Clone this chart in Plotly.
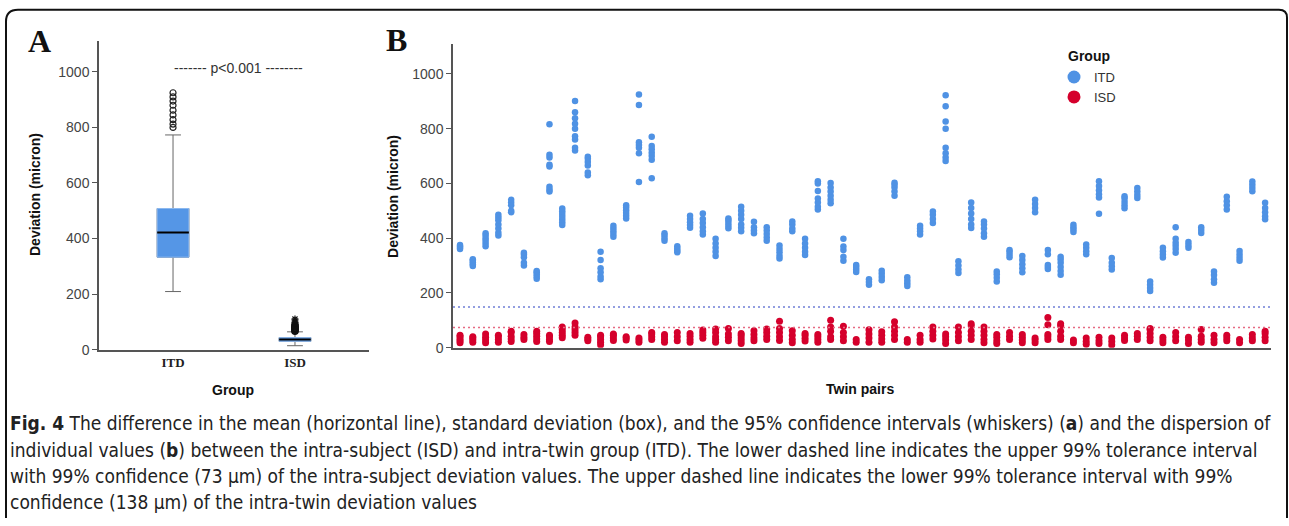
import plotly.graph_objects as go

W, H = 1289, 526

# ---------------- data ----------------
groups = ["ITD", "ISD"]
box_q1 = [333, 30]
box_median = [422, 36]
box_q3 = [508, 43]
box_low = [209, 14]
box_high = [773, 64]
itd_outliers = [800, 812, 828, 845, 862, 880, 895, 910, 925]
isd_outliers_circle = [66, 69, 72, 75, 78, 81, 84, 88]
isd_outliers_star = [92, 97, 103, 110]

itd_lower_tol = 148
isd_upper_tol = 74

pair_itd = [
    [360, 365, 370, 375], [298, 305, 312, 318, 323], [370, 380, 390, 400, 410, 418],
    [410, 420, 435, 450, 465, 475, 485], [495, 500, 520, 530, 540], [300, 310, 330, 340, 347],
    [252, 260, 268, 275, 280], [570, 578, 588, 662, 668, 695, 705, 816],
    [448, 458, 468, 478, 488, 498, 508], [720, 730, 760, 772, 800, 818, 838, 860, 901],
    [630, 640, 665, 678, 690, 697], [250, 260, 275, 290, 320, 350],
    [405, 415, 425, 435, 445], [472, 482, 492, 502, 512, 520],
    [605, 710, 730, 740, 750, 886, 925], [619, 686, 700, 712, 725, 737, 770],
    [390, 400, 410, 418], [348, 355, 362, 370], [438, 448, 458, 470, 482],
    [413, 425, 440, 455, 470, 490], [335, 350, 365, 380, 398], [436, 445, 455, 465, 472],
    [425, 438, 450, 470, 485, 500, 515], [418, 428, 440, 460], [390, 402, 415, 428, 440],
    [326, 336, 348, 360, 373], [425, 435, 450, 461], [338, 350, 365, 380, 398],
    [505, 515, 530, 545, 572, 600, 608], [527, 540, 555, 570, 585, 601],
    [317, 332, 357, 369, 398], [276, 285, 295, 302], [230, 240, 250],
    [246, 258, 270, 281], [555, 570, 585, 595, 602], [225, 235, 245, 257],
    [413, 425, 435, 445], [455, 470, 485, 497], [682, 695, 710, 730, 800, 826, 882, 922],
    [273, 285, 300, 316], [437, 450, 470, 490, 510, 530], [405, 418, 435, 450, 461],
    [242, 255, 268, 278], [330, 340, 350, 357], [275, 290, 305, 320, 335],
    [495, 510, 525, 540], [287, 295, 302, 341, 357], [266, 280, 295, 310, 322, 332],
    [422, 432, 440, 449], [341, 352, 365, 377], [489, 548, 560, 575, 590, 608],
    [285, 297, 310, 327], [509, 520, 532, 545, 553], [547, 558, 570, 583],
    [207, 218, 230, 242], [329, 340, 352, 365], [347, 360, 372, 383, 398, 440],
    [365, 375, 386], [419, 430, 440], [237, 250, 265, 278], [505, 520, 535, 551],
    [317, 328, 340, 353], [571, 583, 595, 607], [469, 480, 495, 510, 529],
]
pair_isd = [
    [18, 25, 32, 40, 45], [20, 28, 35, 40], [18, 28, 38, 50], [20, 30, 40, 45],
    [22, 32, 42, 55, 60], [30, 38, 48], [22, 32, 42, 52, 60], [22, 30, 40, 45],
    [36, 45, 55, 65, 75], [45, 55, 65, 75, 90], [25, 32, 38], [10, 20, 30, 40, 45],
    [26, 35, 45, 50], [28, 35, 40], [20, 28, 35], [30, 40, 50, 55],
    [20, 30, 40, 48], [25, 40, 55], [20, 30, 42, 52], [34, 45, 55, 64],
    [20, 30, 40, 55, 68], [25, 38, 50, 70], [15, 25, 35, 45, 52], [25, 35, 48, 62],
    [30, 42, 55, 68], [26, 40, 55, 70, 96], [18, 30, 45, 62], [24, 34, 45, 52],
    [20, 30, 40, 48], [30, 40, 60, 75, 100], [25, 40, 55, 78], [20, 30],
    [20, 35, 50, 65], [20, 32, 45, 58], [30, 45, 60, 75, 95], [20, 30],
    [20, 30, 45], [32, 45, 60, 75], [15, 28, 40, 50], [25, 40, 55, 75],
    [30, 45, 60, 80, 87], [18, 30, 45, 60, 75], [15, 25, 38, 48], [30, 42, 55],
    [18, 28, 38, 48], [18, 28, 35], [30, 40, 48, 84, 110], [30, 42, 60, 80, 87],
    [18, 28], [12, 22, 35], [15, 25, 38], [10, 22, 35],
    [26, 35, 45], [30, 42, 52], [25, 38, 52, 65, 70], [18, 28, 38],
    [25, 40, 55], [15, 28, 38], [20, 30, 42, 66], [18, 30, 45],
    [25, 35, 45], [18, 30], [25, 35, 48], [25, 38, 52, 60],
]

BLUE = "#4F92E4"
RED = "#D5002C"
BOXBLUE = "#5596E6"


def px(x):
    return x / W


def py(y):
    return 1 - y / H


fig = go.Figure()

# ---------------- panel A ----------------
box_w = 0.26
for i, g in enumerate(groups):
    xpos = i + 1
    fig.add_trace(go.Box(
        x=[xpos], q1=[box_q1[i]], median=[box_median[i]], q3=[box_q3[i]],
        lowerfence=[box_low[i]], upperfence=[box_high[i]],
        width=box_w, whiskerwidth=0.5, fillcolor=BOXBLUE,
        line=dict(color="#666666", width=1), boxpoints=False,
        xaxis="x", yaxis="y", showlegend=False, hoverinfo="skip"))
    fig.add_trace(go.Box(
        x=[xpos], q1=[box_q1[i]], median=[box_median[i]], q3=[box_q3[i]],
        lowerfence=[box_q1[i]], upperfence=[box_q3[i]],
        width=box_w, whiskerwidth=0, fillcolor=BOXBLUE,
        line=dict(color="#8DB9F0", width=1), boxpoints=False,
        xaxis="x", yaxis="y", showlegend=False, hoverinfo="skip"))
    fig.add_trace(go.Scatter(
        x=[xpos - box_w / 2, xpos + box_w / 2], y=[box_median[i]] * 2,
        mode="lines", line=dict(color="black", width=2),
        xaxis="x", yaxis="y", showlegend=False, hoverinfo="skip"))

fig.add_trace(go.Scatter(
    x=[1] * len(itd_outliers), y=itd_outliers, mode="markers",
    marker=dict(symbol="circle-open", size=6, color="#222", line=dict(width=1.2)),
    xaxis="x", yaxis="y", showlegend=False, hoverinfo="skip"))
fig.add_trace(go.Scatter(
    x=[2] * len(isd_outliers_circle), y=isd_outliers_circle, mode="markers",
    marker=dict(symbol="circle-open", size=6, color="#111", line=dict(width=1.5)),
    xaxis="x", yaxis="y", showlegend=False, hoverinfo="skip"))
fig.add_trace(go.Scatter(
    x=[2] * len(isd_outliers_star), y=isd_outliers_star, mode="markers",
    marker=dict(symbol="asterisk-open", size=6, color="#111", line=dict(width=1.2)),
    xaxis="x", yaxis="y", showlegend=False, hoverinfo="skip"))

# ---------------- panel B ----------------
bx, by = [], []
for k, vals in enumerate(pair_itd):
    bx += [k + 1] * len(vals)
    by += vals
rx, ry = [], []
for k, vals in enumerate(pair_isd):
    rx += [k + 1] * len(vals)
    ry += vals

fig.add_trace(go.Scatter(x=bx, y=by, mode="markers",
                         marker=dict(color=BLUE, size=6.5, line=dict(width=0)),
                         xaxis="x2", yaxis="y2", showlegend=False, hoverinfo="skip"))
fig.add_trace(go.Scatter(x=rx, y=ry, mode="markers",
                         marker=dict(color=RED, size=7, line=dict(width=0)),
                         xaxis="x2", yaxis="y2", showlegend=False, hoverinfo="skip"))
fig.add_trace(go.Scatter(x=[None], y=[None], mode="markers", name="ITD",
                         marker=dict(color=BLUE, size=13), xaxis="x2", yaxis="y2"))
fig.add_trace(go.Scatter(x=[None], y=[None], mode="markers", name="ISD",
                         marker=dict(color=RED, size=13), xaxis="x2", yaxis="y2"))

axis_common = dict(showgrid=False, zeroline=False, showline=True,
                   linecolor="#555555", linewidth=1.5)
tickfont = dict(family="Liberation Sans, Arial, sans-serif", size=14, color="#444444")

fig.update_layout(
    width=W, height=H, autosize=False,
    margin=dict(l=0, r=0, t=0, b=0, pad=0),
    paper_bgcolor="white", plot_bgcolor="white",
    boxmode="overlay",
    xaxis=dict(domain=[px(99), px(369)], range=[0.393, 2.607], **axis_common,
               tickmode="array", tickvals=[1, 2],
               ticktext=["<b>" + g + "</b>" for g in groups],
               tickfont=dict(family="Liberation Serif, Times New Roman, serif", size=13, color="#222"),
               ticks="", anchor="y"),
    yaxis=dict(domain=[py(355), py(42)], range=[0, 1110], **axis_common,
               tickmode="linear", tick0=0, dtick=200, ticks="outside", ticklen=5,
               tickcolor="#555555", tickfont=tickfont, anchor="x"),
    xaxis2=dict(domain=[px(453), px(1271)], range=[0.45, 64.46], **axis_common,
                showticklabels=False, ticks="", anchor="y2"),
    yaxis2=dict(domain=[py(353), py(45)], range=[0, 1108], **axis_common,
                tickmode="linear", tick0=0, dtick=200, ticks="outside", ticklen=5,
                tickcolor="#555555", tickfont=tickfont, anchor="x2"),
    legend=dict(x=px(1054), y=py(63), xanchor="left", yanchor="top",
                font=dict(family="Liberation Sans, Arial", size=13, color="#333"),
                itemwidth=30, tracegroupgap=0, bgcolor="rgba(0,0,0,0)",
                borderwidth=0),
    showlegend=True,
)

# tolerance lines
fig.add_shape(type="line", xref="x2 domain", yref="y2", x0=0, x1=1,
              y0=itd_lower_tol, y1=itd_lower_tol,
              line=dict(color="#6F7FD6", width=1.5, dash="2px,3px"))
fig.add_shape(type="line", xref="x2 domain", yref="y2", x0=0, x1=1,
              y0=isd_upper_tol, y1=isd_upper_tol,
              line=dict(color="#E66A82", width=1.5, dash="2px,3px"))

# frame
frame = (f"M {px(6)},{py(526)} L {px(6)},{py(22)} Q {px(6)},{py(10)} {px(18)},{py(10)} "
         f"L {px(1279)},{py(10)} Q {px(1287)},{py(10)} {px(1287)},{py(18)} L {px(1287)},{py(526)}")
fig.add_shape(type="path", xref="paper", yref="paper", path=frame,
              line=dict(color="#111", width=2))

bold_font = dict(family="Liberation Sans, Arial, sans-serif", size=14, color="#111")
ann = [
    dict(text="<b>A</b>", x=px(39), y=py(42),
         font=dict(family="Liberation Serif, Times New Roman, serif", size=32, color="#111")),
    dict(text="<b>B</b>", x=px(396), y=py(41),
         font=dict(family="Liberation Serif, Times New Roman, serif", size=32, color="#111")),
    dict(text="------- p<0.001 --------", x=px(238), y=py(69),
         font=dict(family="Liberation Sans, Arial", size=14, color="#333")),
    dict(text="<b>Deviation (micron)</b>", x=px(35), y=py(198), textangle=-90, font=bold_font),
    dict(text="<b>Deviation (micron)</b>", x=px(393), y=py(200), textangle=-90, font=bold_font),
    dict(text="<b>Group</b>", x=px(233), y=py(396), font=bold_font),
    dict(text="<b>Twin pairs</b>", x=px(860), y=py(395), font=bold_font),
    dict(text="<b>Group</b>", x=px(1089), y=py(57),
         font=dict(family="Liberation Sans, Arial", size=14, color="#111")),
]
for a in ann:
    fig.add_annotation(xref="paper", yref="paper", showarrow=False,
                       xanchor="center", yanchor="middle", **a)

caption = [
    "<b>Fig. 4</b> The difference in the mean (horizontal line), standard deviation (box), and the 95% confidence intervals (whiskers) (<b>a</b>) and the dispersion of",
    "individual values (<b>b</b>) between the intra-subject (ISD) and intra-twin group (ITD). The lower dashed line indicates the upper 99% tolerance interval",
    "with 99% confidence (73 µm) of the intra-subject deviation values. The upper dashed line indicates the lower 99% tolerance interval with 99%",
    "confidence (138 µm) of the intra-twin deviation values",
]
for i, line in enumerate(caption):
    fig.add_annotation(xref="paper", yref="paper", showarrow=False,
                       x=px(8), y=py(430 + 26.7 * i), xanchor="left", yanchor="middle",
                       text=line,
                       font=dict(family="DejaVu Sans Condensed, sans-serif",
                                 size=19, color="#222"))

fig.write_html("out.html")
